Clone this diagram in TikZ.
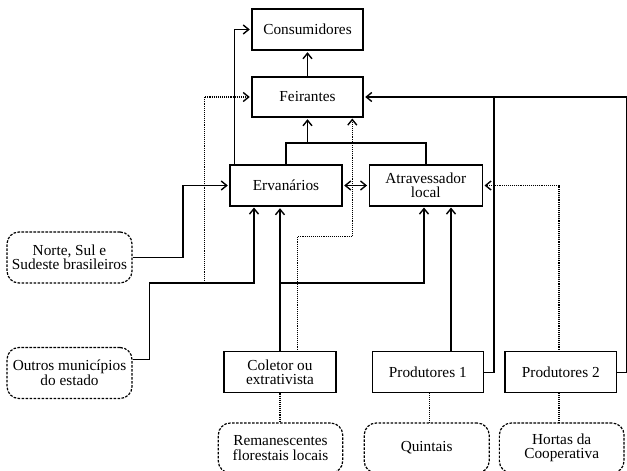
\documentclass[tikz,border=0pt]{standalone}
\usepackage{fontspec}
\setmainfont{Liberation Serif}
\usetikzlibrary{arrows.meta,calc}
\begin{document}
\begin{tikzpicture}[x=1pt,y=-1pt,
  font=\fontsize{15.3}{14.5}\selectfont,
  box/.style={draw,line width=1.4pt,rectangle,inner sep=0pt,minimum height=41pt,align=center},
  src/.style={draw,line width=1.2pt,dash pattern=on 2.6pt off 1.4pt,rounded corners=12pt,rectangle,inner sep=0pt,minimum width=125pt,minimum height=51pt,align=center},
  con/.style={line width=1.4pt},
  dot/.style={line width=1.4pt,dash pattern=on 1.1pt off 1pt},
  arr/.style={-{Straight Barb[length=5.5pt,width=9pt]},shorten >=1.5pt},
  darr/.style={{Straight Barb[length=5.5pt,width=9pt]}-{Straight Barb[length=5.5pt,width=9pt]},shorten >=1.5pt,shorten <=1.5pt}
]
\useasboundingbox (0,0) rectangle (627,471);

% main boxes
\node[box,minimum width=111pt] (cons) at (307.5,29.5) {Consumidores};
\node[box,minimum width=111pt,minimum height=40pt] (feir) at (307.5,97) {Feirantes};
\node[box,minimum width=112pt] (erv) at (286,185.5) {Ervanários};
\node[box,minimum width=113pt] (atr) at (425.8,185.5) {Atravessador\\local};
\node[box,minimum width=112pt] (col) at (280,372.2) {Coletor ou\\extrativista};
\node[box,minimum width=111pt] (p1) at (427.8,372.2) {Produtores 1};
\node[box,minimum width=111.7pt] (p2) at (560.8,372.2) {Produtores 2};

% source boxes
\node[src] (norte) at (69.5,257.5) {Norte, Sul e\\Sudeste brasileiros};
\node[src] (outros) at (69.5,373) {Outros municípios\\do estado};
\node[src,minimum width=124.4pt,minimum height=50pt] (rem) at (280.5,448) {Remanescentes\\florestais locais};
\node[src,minimum height=50pt] (quin) at (426.7,448) {Quintais};
\node[src,minimum width=124.7pt,minimum height=50pt] (hort) at (561.7,448) {Hortas da\\Cooperativa};

% coordinates
\coordinate (j1) at (307.5,143);
\coordinate (jout) at (149.7,283);
\coordinate (jcol) at (280,283);
\coordinate (jat) at (424,283);
\coordinate (jp1) at (494,372.2);
\coordinate (jp2) at (626.7,372.2);
\coordinate (jtop) at (626.7,97);

% solid connectors
\draw[con,arr] (feir.north) -- (cons.south);
\draw[con,arr] ($(erv.north west)+(5,0)$) |- (cons.west);
\draw[con] (erv.north) |- (j1) -| (atr.north);
\draw[con,arr] (j1) -- (feir.south);
\draw[con,darr] (erv.east) -- (atr.west);
\draw[con,arr] (norte.east) -- ++(50.5,0) |- (erv.west);
\draw[con,arr] ($(outros.north east)+(0,12.3)$) -| (jout) -- (254,283) -- (254,206);
\draw[con,arr] (col.north) -- (col.north |- erv.south);
\draw[con,arr] (jcol) -- (jat) -- (424,206);
\draw[con,arr] (451,351.7) -- (451,206);
\draw[con] (p1.east) -- (jp1) -- (494,97);
\draw[con] (p2.east) -- (jp2) -- (jtop);
\draw[con,arr] (jtop) -- (feir.east);

% dotted connectors
\draw[dot,arr] (297.7,351.7) -- (297.7,236.7) -- (352.3,236.7) -- (352.3,117);
\draw[dot,arr] (204.3,283) |- (feir.west);
\draw[dot,arr] (559,351.7) |- (atr.east);
\draw[dot] (col.south) -- (col.south |- rem.north);
\draw[dot] (429.3,392.7) -- (429.3,423);
\draw[dot] (559,392.7) -- (559,423);
\end{tikzpicture}
\end{document}
